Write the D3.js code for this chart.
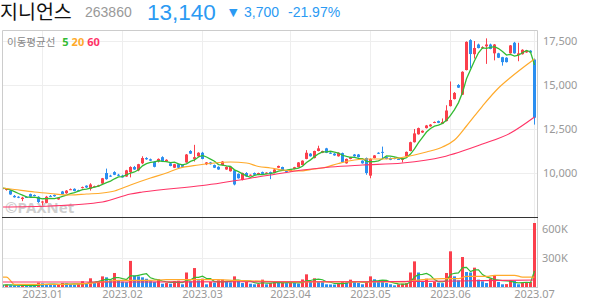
<!DOCTYPE html>
<html>
<head>
<meta charset="utf-8">
<script src="https://cdn.jsdelivr.net/npm/d3@7"></script>
<style>
  body { margin: 0; background: #fff; }
  svg { display: block; font-family: "Noto Sans", "Noto Sans CJK KR", sans-serif; }
</style>
</head>
<body>
<div id="chart"></div>
<script>
// Daily candle chart with moving averages and volume (KRX style: red = up, blue = down)

const stockName = "지니언스";
const stockCode = "263860";
const lastPrice = "13,140";
const changeAbs = "3,700";
const changePct = "-21.97%";
const maLegendLabel = "이동평균선";
const maLegendPeriods = ["5", "20", "60"];

// trading calendar
const firstDay = "2022-12-16";
const lastDay = "2023-07-03";
const holidays = ["2022-12-30", "2023-01-23", "2023-01-24", "2023-03-01",
  "2023-05-01", "2023-05-05", "2023-05-29", "2023-06-06"];

const priceTicks = [10000, 12500, 15000, 17500];
const volumeTicks = [300, 600]; // thousand shares

// OHLC, one value per trading day
const opens = [9150, 9040, 9000, 8700, 8650, 8520, 8640, 8800, 8750, 8650,
  8320, 8300, 8700, 8750, 8500, 8950, 8850, 9050, 9100, 9020,
  9150, 9280, 9100, 9200, 9250, 9400, 10000, 9850, 10050, 9900,
  9850, 9800, 10050, 10340, 10150, 10550, 10850, 10780, 10650, 10650,
  10900, 10650, 10550, 10300, 10500, 10450, 10600, 11250, 10800, 10950,
  11150, 10500, 10600, 10450, 10350, 10450, 10200, 10100, 10150, 9950,
  9600, 10000, 9850, 10000, 9900, 10050, 9950, 10050, 10000, 10300,
  10340, 10120, 10100, 10230, 10330, 10450, 10800, 11100, 10850, 11250,
  11150, 11400, 11150, 11100, 10950, 11130, 10550, 10800, 11050, 11050,
  10700, 10850, 9850, 10850, 11150, 11200, 10900, 10850, 10850, 10800,
  10750, 10950, 11250, 11750, 12200, 12300, 12550, 12650, 12850, 12950,
  12800, 12950, 13800, 14200, 15000, 14450, 15850, 17550, 16750, 17300,
  17100, 17200, 17300, 16800, 16800, 16580, 16550, 16800, 17400, 16700,
  16750, 16850, 16950, 16450];
const highs = [9200, 9120, 9030, 8750, 8680, 8650, 8680, 8830, 8780, 8680,
  8420, 8700, 8750, 8780, 8620, 8980, 9030, 9120, 9130, 9050,
  9230, 9300, 9420, 9280, 9330, 9720, 10250, 9900, 10100, 9950,
  9900, 10180, 10380, 10400, 10520, 10950, 10900, 10820, 10680, 10830,
  10950, 10780, 10580, 10520, 10530, 10480, 11080, 11300, 11600, 11180,
  11200, 10620, 10630, 10480, 10380, 10680, 10380, 10370, 10180, 9980,
  10020, 10050, 9920, 10030, 10020, 10080, 10040, 10080, 10220, 10420,
  10360, 10140, 10220, 10350, 10620, 10720, 11300, 11130, 11270, 11550,
  11270, 11430, 11180, 11130, 11170, 11160, 10820, 10920, 11080, 11080,
  10720, 10880, 10830, 11020, 11180, 11500, 10930, 10880, 10880, 10830,
  10870, 11220, 11780, 12500, 12580, 12420, 12730, 12780, 12930, 12980,
  13100, 13850, 15200, 14600, 15050, 15780, 17480, 17600, 17500, 17350,
  17200, 17650, 17350, 17330, 16830, 16600, 16580, 17270, 17450, 17400,
  17030, 16980, 16980, 16500];
const lows = [9050, 9000, 8760, 8600, 8570, 8400, 8580, 8620, 8680, 8300,
  8150, 8280, 8650, 8650, 8480, 8780, 8820, 9030, 8960, 8980,
  9120, 9150, 9000, 9180, 9220, 9380, 9620, 9780, 9880, 9830,
  9740, 9780, 9750, 10180, 10100, 10500, 10750, 10680, 10320, 10600,
  10620, 10620, 10380, 10280, 10280, 10330, 10580, 11080, 10650, 10920,
  10780, 10450, 10480, 10280, 10180, 10420, 10180, 10080, 9300, 9680,
  9580, 9780, 9830, 9880, 9880, 9930, 9930, 9650, 9980, 10280,
  10150, 10060, 10080, 10210, 10310, 10430, 10780, 10930, 10830, 11230,
  11130, 11130, 11080, 10980, 10930, 10600, 10530, 10780, 10930, 10880,
  10530, 9900, 9700, 10830, 11080, 10800, 10780, 10730, 10780, 10760,
  10600, 10930, 11230, 11730, 12180, 12280, 12530, 12630, 12830, 12830,
  12780, 12930, 13780, 14180, 14830, 14430, 15830, 15950, 16500, 17080,
  17050, 16200, 17030, 16400, 16530, 16100, 16280, 16780, 16780, 16350,
  16730, 16830, 16820, 12750];
const closes = [9080, 9100, 8780, 8620, 8600, 8600, 8600, 8650, 8700, 8350,
  8380, 8650, 8680, 8680, 8580, 8800, 9000, 9080, 8980, 9000,
  9200, 9180, 9350, 9250, 9300, 9700, 9650, 9800, 9900, 9850,
  9750, 10150, 10340, 10200, 10500, 10850, 10780, 10700, 10350, 10800,
  10650, 10750, 10400, 10500, 10300, 10350, 11050, 11100, 10900, 11150,
  10800, 10600, 10500, 10300, 10200, 10650, 10350, 10350, 9350, 9700,
  10000, 9800, 9900, 9900, 10000, 9950, 10020, 9950, 10200, 10400,
  10170, 10080, 10200, 10330, 10600, 10700, 11150, 10950, 11250, 11400,
  11250, 11150, 11120, 11000, 11150, 10620, 10800, 10900, 10950, 10900,
  10550, 10000, 10800, 11000, 11100, 11150, 10800, 10750, 10800, 10780,
  10850, 11200, 11750, 12250, 12550, 12400, 12700, 12750, 12900, 12850,
  12900, 13550, 14150, 14550, 14850, 15750, 17450, 16760, 17100, 17100,
  17150, 17300, 17050, 17300, 16550, 16300, 16300, 17250, 16800, 16800,
  17000, 16950, 16840, 13140];
// closes of the four sessions before the first visible one (start of the 5-day average)
const priorCloses = [9200, 9150, 9100, 9150];

// volume, thousand shares
const volumes = [20, 25, 18, 15, 14, 16, 14, 12, 11, 45,
  38, 28, 22, 20, 25, 42, 38, 30, 22, 28,
  60, 35, 90, 45, 60, 110, 100, 70, 145, 65,
  55, 50, 270, 120, 110, 100, 85, 59, 52, 80,
  34, 41, 34, 62, 65, 28, 150, 59, 196, 69,
  86, 28, 52, 45, 69, 76, 52, 48, 110, 69,
  41, 52, 34, 28, 30, 76, 28, 41, 52, 45,
  52, 40, 45, 41, 35, 78, 131, 52, 90, 52,
  50, 28, 26, 25, 41, 52, 50, 76, 59, 41,
  28, 52, 110, 80, 59, 52, 41, 28, 17, 28,
  34, 40, 150, 265, 150, 52, 86, 41, 52, 45,
  40, 145, 369, 110, 69, 310, 155, 150, 200, 76,
  59, 41, 86, 121, 52, 28, 30, 69, 62, 28,
  41, 45, 52, 662];
const priorVolumes = [20, 18, 22, 20];

// 20- and 60-day averages: [day index, value]
const priceMa20 = [[0, 9148], [3, 9063], [8, 8921], [12, 8836], [17, 8750], [21, 8807],
  [25, 8864], [28, 8978], [32, 9320], [37, 9716], [41, 10000], [44, 10256],
  [49, 10454], [53, 10568], [57, 10625], [61, 10568], [64, 10369], [67, 10284],
  [70, 10170], [74, 10114], [78, 10227], [80, 10284], [84, 10540], [88, 10738],
  [91, 10795], [95, 10795], [99, 10852], [103, 11022], [106, 11193], [110, 11477],
  [113, 11874], [116, 12670], [120, 13806], [124, 14828], [127, 15424],
  [130, 15964], [133, 16475]];
const priceMa60 = [[0, 8069], [12, 8126], [25, 8353], [32, 8807], [35, 8921],
  [50, 9290], [67, 9886], [75, 10170], [82, 10341], [90, 10454], [100, 10568],
  [110, 10909], [120, 11647], [127, 12272], [133, 13181]];
const volumeMa20 = [[0, 103], [1, 103], [3, 28], [15, 28], [20, 34], [25, 52],
  [29, 69], [37, 69], [41, 76], [54, 76], [58, 69], [66, 59], [74, 52],
  [100, 52], [102, 62], [110, 86], [114, 86], [116, 110], [121, 110],
  [123, 121], [128, 121], [130, 103], [133, 103]];
const volumeMa60 = [[0, 52], [30, 52], [60, 55], [90, 55], [105, 58], [120, 66], [133, 72]];

// ---- layout & style ----
const W = 594, H = 304;
const box = { left: 2, right: 537, top: 30, split: 217, bottom: 287 };
const upColor = "#fb3f4c";
const downColor = "#2b8ef0";
const maColors = ["#33bb33", "#ffaa2b", "#ff3366"];
const gridColor = "#eeeeee";
const headerFont = "'Liberation Sans', 'Noto Sans CJK KR', sans-serif";

// trading days
const tradingDays = [];
for (let d = new Date(firstDay + "T00:00:00Z"); d <= new Date(lastDay + "T00:00:00Z");
     d.setUTCDate(d.getUTCDate() + 1)) {
  const s = d.toISOString().slice(0, 10);
  const wd = d.getUTCDay();
  if (wd === 0 || wd === 6 || holidays.includes(s)) continue;
  tradingDays.push(s);
}
const monthStarts = tradingDays.filter((d, i) => i > 0 && d.slice(5, 7) !== tradingDays[i - 1].slice(5, 7));

const movingAvg = (values, prior, n) => {
  const all = prior.concat(values);
  return values.map((v, i) => d3.mean(all.slice(i + prior.length - n + 1, i + prior.length + 1)));
};
const ma5 = movingAvg(closes, priorCloses, 5);
const volMa5 = movingAvg(volumes, priorVolumes, 5);

// ---- scales ----
const x = d3.scaleBand()
  .domain(tradingDays)
  .range([0, box.right - 1])
  .paddingInner(0.25)
  .paddingOuter(0.125);
const xc = d => Math.round(x(d)) + 1.5;

const yP = d3.scaleLinear().domain([7500, 18125]).range([box.split, box.top]);
const yV = d3.scaleLinear().domain([0, 724]).range([box.bottom, box.split]);

const svg = d3.select("#chart").append("svg")
  .attr("width", W)
  .attr("height", H);

svg.append("rect").attr("width", W).attr("height", H).attr("fill", "#fff");

// ---- header ----
const header = svg.append("g").style("font-family", headerFont);
header.append("text").attr("x", 0).attr("y", 18.5)
  .style("font-size", "19.5px").attr("fill", "#111").text(stockName);
header.append("text").attr("x", 85).attr("y", 17)
  .style("font-size", "14px").attr("fill", "#999").text(stockCode);
header.append("text").attr("x", 147).attr("y", 19.5)
  .style("font-size", "22.5px").attr("fill", "#2b9af3").text(lastPrice);
header.append("text").attr("x", 229).attr("y", 15.5)
  .style("font-family", "'DejaVu Sans', sans-serif")
  .style("font-size", "11px").attr("fill", "#2b9af3").text("▼");
header.append("text").attr("x", 244).attr("y", 17)
  .style("font-size", "14px").attr("fill", "#2b9af3").text(changeAbs);
header.append("text").attr("x", 288).attr("y", 17)
  .style("font-size", "14px").attr("fill", "#2b9af3").text(changePct);

// ---- grid ----
const grid = svg.append("g");
grid.selectAll(".vgrid").data(monthStarts).join("line")
  .attr("x1", d => xc(d)).attr("x2", d => xc(d))
  .attr("y1", box.top).attr("y2", box.bottom)
  .attr("stroke", gridColor);
grid.selectAll(".pgrid").data(priceTicks).join("line")
  .attr("x1", box.left).attr("x2", box.right)
  .attr("y1", d => Math.round(yP(d)) + 0.5).attr("y2", d => Math.round(yP(d)) + 0.5)
  .attr("stroke", gridColor);
grid.selectAll(".vlgrid").data(volumeTicks).join("line")
  .attr("x1", box.left).attr("x2", box.right)
  .attr("y1", d => Math.round(yV(d)) + 0.5).attr("y2", d => Math.round(yV(d)) + 0.5)
  .attr("stroke", gridColor);

// watermark
svg.append("text").attr("x", 5).attr("y", 213)
  .style("font-size", "15px").style("font-weight", "bold")
  .attr("fill", "#bbb").attr("opacity", 0.7).text("©PAXNet");

svg.append("clipPath").attr("id", "plot-clip")
  .append("rect").attr("x", box.left).attr("y", box.top)
  .attr("width", box.right - box.left).attr("height", box.bottom - box.top);

const plot = svg.append("g").attr("clip-path", "url(#plot-clip)");

// ---- candles ----
const idx = d3.range(tradingDays.length);
const candleColor = i => closes[i] >= opens[i] ? upColor : downColor;

plot.append("g").selectAll("line").data(idx).join("line")
  .attr("x1", i => xc(tradingDays[i])).attr("x2", i => xc(tradingDays[i]))
  .attr("y1", i => yP(highs[i])).attr("y2", i => yP(lows[i]))
  .attr("stroke", candleColor).attr("stroke-width", 1);

plot.append("g").selectAll("rect").data(idx).join("rect")
  .attr("x", i => Math.round(x(tradingDays[i])))
  .attr("width", 3)
  .attr("y", i => yP(Math.max(opens[i], closes[i])))
  .attr("height", i => Math.max(1, yP(Math.min(opens[i], closes[i])) - yP(Math.max(opens[i], closes[i]))))
  .attr("fill", candleColor);

// ---- price moving averages ----
const lineIdx = (ys) => d3.line()
  .x(i => xc(tradingDays[i]))
  .y(i => ys(i));

plot.append("path").datum(idx)
  .attr("d", lineIdx(i => yP(ma5[i])))
  .attr("fill", "none").attr("stroke", maColors[0]).attr("stroke-width", 1.3);

const readLine = (yScale) => d3.line()
  .curve(d3.curveMonotoneX)
  .x(d => xc(tradingDays[d[0]]))
  .y(d => yScale(d[1]));

plot.append("path").datum(priceMa20)
  .attr("d", readLine(yP))
  .attr("fill", "none").attr("stroke", maColors[1]).attr("stroke-width", 1.2);
plot.append("path").datum(priceMa60)
  .attr("d", readLine(yP))
  .attr("fill", "none").attr("stroke", maColors[2]).attr("stroke-width", 1.1);

// ---- volume ----
const volColor = i => volumes[i] > (i > 0 ? volumes[i - 1] : priorVolumes[priorVolumes.length - 1]) ? upColor : downColor;

plot.append("g").selectAll("rect").data(idx).join("rect")
  .attr("x", i => Math.round(x(tradingDays[i])))
  .attr("width", 3)
  .attr("y", i => yV(volumes[i]))
  .attr("height", i => yV(0) - yV(volumes[i]))
  .attr("fill", volColor);

plot.append("path").datum(idx)
  .attr("d", lineIdx(i => yV(volMa5[i])))
  .attr("fill", "none").attr("stroke", maColors[0]).attr("stroke-width", 1.2);
plot.append("path").datum(volumeMa20)
  .attr("d", readLine(yV))
  .attr("fill", "none").attr("stroke", maColors[1]).attr("stroke-width", 1.2);
plot.append("path").datum(volumeMa60)
  .attr("d", readLine(yV))
  .attr("fill", "none").attr("stroke", maColors[2]).attr("stroke-width", 1.1);

// ---- frame ----
const frame = svg.append("g").attr("fill", "none");
frame.append("path")
  .attr("d", `M${box.left + 0.5},${box.bottom}V${box.top + 0.5}H${box.right + 0.5}V${box.bottom}`)
  .attr("stroke", "#cccccc");
frame.append("line")
  .attr("x1", box.left).attr("x2", box.right + 1)
  .attr("y1", box.split + 0.5).attr("y2", box.split + 0.5)
  .attr("stroke", "#333");
frame.append("line")
  .attr("x1", box.left).attr("x2", box.right + 1)
  .attr("y1", box.bottom + 0.5).attr("y2", box.bottom + 0.5)
  .attr("stroke", "#cccccc");

// ---- legend ----
const legend = svg.append("text").attr("x", 7).attr("y", 46).style("font-size", "10.5px");
legend.append("tspan").attr("fill", "#888")
  .style("font-family", "'Noto Sans CJK KR', sans-serif").text(maLegendLabel);
maLegendPeriods.forEach((p, k) => {
  legend.append("tspan").attr("dx", k === 0 ? 7 : 3).attr("fill", maColors[k])
    .style("font-weight", "bold").style("font-size", "11px").text(p);
});

// ---- axes ----
const priceAxis = svg.append("g")
  .attr("transform", `translate(${box.right},0)`)
  .call(d3.axisRight(yP).tickValues(priceTicks).tickSize(0).tickPadding(6).tickFormat(d3.format(",")));
const volAxis = svg.append("g")
  .attr("transform", `translate(${box.right},0)`)
  .call(d3.axisRight(yV).tickValues(volumeTicks).tickSize(0).tickPadding(5).tickFormat(d => d + "K"));
const xAxis = svg.append("g")
  .attr("transform", `translate(0,${box.bottom})`)
  .call(d3.axisBottom(x).tickValues(monthStarts).tickSize(0).tickPadding(3)
    .tickFormat(d => d.slice(0, 4) + "." + d.slice(5, 7)));

[priceAxis, volAxis, xAxis].forEach(g => {
  g.select(".domain").remove();
  g.selectAll("text")
    .style("font-family", "'Noto Sans', sans-serif")
    .style("font-size", "11px")
    .attr("fill", "#999");
});
xAxis.selectAll(".tick").attr("transform", d => `translate(${xc(d)},0)`);
</script>
</body>
</html>
